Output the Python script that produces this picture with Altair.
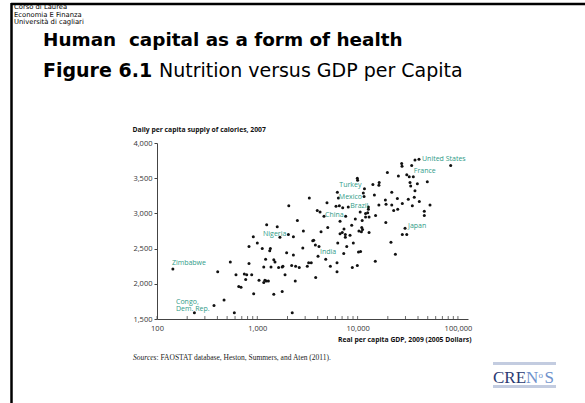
import altair as alt
import pandas as pd

# Countries that carry a name label
countries = ["United States", "France", "Turkey", "Mexico", "Brazil", "China",
             "Japan", "Nigeria", "India", "Zimbabwe", "Congo,\nDem. Rep."]
country_gdp = [40900, 30900, 11700, 11600, 8070, 7600, 29700, 2040, 4030, 144, 370]
country_kcal = [3770, 3550, 3350, 3240, 3090, 2960, 2790, 2700, 2390, 2210, 1690]

# Remaining countries (real GDP per capita, daily kcal per capita)
other_gdp = [
    37300, 84700, 27500, 27700, 34600, 19800, 25500, 32700, 35900, 9930,
    10000, 14200, 16400, 16300, 33300, 33800, 39400, 49500, 11400, 21900,
    37300, 6280, 3300, 14700, 6430, 24900, 18900, 32000, 36700, 41200,
    4950, 6090, 6570, 7100, 12800, 12800, 16300, 19200, 21900, 27900,
    35100, 52700, 2060, 3960, 4220, 4620, 10600, 12000, 12600, 12000,
    15100, 25100, 22900, 46200, 46200, 2510, 6680, 9480, 11100, 19100,
    5040, 8730, 11000, 11200, 7310, 2880, 4320, 6680, 7540, 7540,
    8400, 10300, 13000, 27900, 30900, 2290, 236, 466, 403, 538,
    590, 613, 653, 688, 742, 784, 766, 826, 826, 879,
    912, 920, 1000, 1040, 1120, 1160, 1190, 1160, 1230, 1210,
    1290, 1240, 1330, 1350, 1370, 1460, 1460, 1500, 1580, 1630,
    1680, 1770, 1800, 1770, 1890, 1960, 2200, 2230, 2290, 2390,
    2410, 2620, 2840, 3150, 3250, 3450, 3570, 3650, 3820, 3790,
    4120, 4810, 5350, 6230, 6230, 6340, 7030, 7270, 7790, 9060,
    21500, 10200, 10700, 23800, 15000, 8850, 9930, 10900, 13000,
]
other_kcal = [
    3760, 3680, 3710, 3670, 3680, 3580, 3530, 3520, 3520, 3500,
    3470, 3410, 3440, 3400, 3440, 3390, 3420, 3450, 3290, 3300,
    3320, 3300, 3220, 3260, 3220, 3210, 3190, 3200, 3230, 3170,
    3150, 3100, 3110, 3080, 3090, 3060, 3120, 3130, 3120, 3140,
    3110, 3120, 3110, 3040, 3020, 2960, 3020, 3000, 3010, 2950,
    2970, 3060, 3040, 3030, 2970, 2900, 2890, 2920, 2900, 2870,
    2800, 2830, 2800, 2770, 2780, 2750, 2740, 2710, 2700, 2660,
    2690, 2750, 2730, 2700, 2700, 2670, 1590, 1770, 2170, 2310,
    1590, 2130, 1960, 1950, 2140, 2130, 2060, 2290, 2530, 2130,
    2670, 1860, 2580, 2050, 2500, 2240, 2050, 2020, 2040, 2350,
    2040, 2840, 2470, 2500, 2240, 1850, 2340, 2310, 2810, 2230,
    2660, 2240, 2250, 1890, 2130, 2440, 2260, 1590, 2410, 2040,
    2250, 2230, 2510, 2250, 2300, 2300, 2610, 2620, 2090, 2550,
    2530, 2350, 2250, 2300, 2170, 2580, 2730, 2430, 2530, 2580,
    2590, 2450, 2460, 2420, 2320, 2230, 2260, 2740, 2950,
]

x_ticks = [100, 1000, 10000, 100000]
x_minor = [m * d for d in (100, 1000, 10000) for m in range(2, 10)] + x_ticks
y_ticks = [1500, 2000, 2500, 3000, 3500, 4000]
tick_base, tick_top = 1500, 1542

labelled = pd.DataFrame({"country": countries, "gdp": country_gdp, "kcal": country_kcal})
points = pd.concat([
    labelled[["gdp", "kcal"]],
    pd.DataFrame({"gdp": other_gdp, "kcal": other_kcal}),
], ignore_index=True)

W, H = 311, 176
TEAL = "#2f9b88"
AXIS_FONT = "Open Sans"

x_scale = alt.Scale(type="log", domain=[100, 126000], nice=False)
y_scale = alt.Scale(domain=[1500, 4000], nice=False, zero=False)

x_axis = alt.Axis(
    values=x_ticks, format=",.0f", ticks=False, labelFlush=False, labelOverlap=False,
    labelFont=AXIS_FONT, labelFontSize=7.5, labelColor="#333333", labelPadding=5,
    domainColor="#444444", grid=False,
    title="Real per capita GDP, 2009 (2005 Dollars)",
    titleFont=AXIS_FONT, titleFontSize=6.8, titleFontWeight="bold", titleColor="#111111",
    titleAlign="right", titleBaseline="middle", titleX=314, titleY=20)
y_axis = alt.Axis(
    values=y_ticks, format=",.0f", tickSize=3, tickColor="#444444", labelOverlap=False,
    labelFont=AXIS_FONT, labelFontSize=7.5, labelColor="#333333", labelPadding=2,
    domainColor="#444444", grid=False,
    title="Daily per capita supply of calories, 2007",
    titleFont=AXIS_FONT, titleFontSize=6.8, titleFontWeight="bold", titleColor="#111111",
    titleAngle=0, titleAlign="left", titleBaseline="alphabetic", titleX=-25, titleY=-12)

X = alt.X("gdp:Q", scale=x_scale, axis=x_axis)
Y = alt.Y("kcal:Q", scale=y_scale, axis=y_axis)

dots = alt.Chart(points).mark_circle(size=9, color="#111111", opacity=1).encode(x=X, y=Y)

# Inward-pointing log ticks along the x axis
tick_df = pd.DataFrame({"gdp": x_minor, "kcal": tick_base, "kcal2": tick_top})
minor_ticks = alt.Chart(tick_df).mark_rule(color="#444444", strokeWidth=0.8).encode(
    x=X, y=Y, y2="kcal2:Q")

# Label placement: (align, dx, dy)
placement = {
    "United States": ("left", 3, 0),
    "France": ("left", 7, -4),
    "Turkey": ("right", -3, -4),
    "Mexico": ("right", -2, 0),
    "Brazil": ("left", 2, -1),
    "China": ("right", -2, -1),
    "Japan": ("left", 3, -2),
    "Nigeria": ("right", -2, -1),
    "India": ("left", 2, -4),
    "Zimbabwe": ("left", -1, -6),
    "Congo,\nDem. Rep.": ("left", -38, -4),
}
label_layers = []
for name, (align, dx, dy) in placement.items():
    label_layers.append(
        alt.Chart(labelled).transform_filter(alt.datum.country == name)
        .mark_text(align=align, baseline="middle", dx=dx, dy=dy, font=AXIS_FONT,
                   fontSize=7, color=TEAL, lineBreak="\n", lineHeight=7.7)
        .encode(x=X, y=Y, text="country:N")
    )

one = alt.Data(values=[{}])


def note(text, x, y, size, font="DejaVu Sans", weight="normal", style="normal",
         color="#000000", align="left"):
    return alt.Chart(one).mark_text(
        text=text, align=align, baseline="alphabetic", font=font, fontSize=size,
        fontWeight=weight, fontStyle=style, color=color,
    ).encode(x=alt.value(x), y=alt.value(y))


def box(x1, x2, y1, y2, color):
    return alt.Chart(one).mark_rect(color=color).encode(
        x=alt.value(x1), x2=alt.value(x2), y=alt.value(y1), y2=alt.value(y2))


def line(x1, x2, y1, y2, width):
    return alt.Chart(one).mark_rule(color="#000000", strokeWidth=width).encode(
        x=alt.value(x1), x2=alt.value(x2), y=alt.value(y1), y2=alt.value(y2))


NAVY, SKY = "#2b3a72", "#6f92cc"
slide = [
    line(-146, 428, -139, -139, 2.5),
    line(-145.5, -145.5, -140, 260, 2.5),
    note("Corso di Laurea", -143, -133.8, 6.8),
    note("Economia E Finanza", -143, -126.4, 6.8),
    note("Università di cagliari", -143, -119, 6.8),
    note("Human\u00a0 capital as a form of health", -114, -97, 18.4, weight="bold"),
    note("Figure 6.1", -114, -65.7, 19, weight="bold"),
    note("Nutrition versus GDP per Capita", 2, -65.7, 19),
    note("Sources", -24, 216.5, 7.5, font="Liberation Serif", style="italic", color="#222222"),
    note(": FAOSTAT database, Heston, Summers, and Aten (2011).", -0.5, 216.5, 7.5,
         font="Liberation Serif", color="#222222"),
    box(336, 399, 219, 222, "#c3cce0"),
    box(336, 399, 242, 245, "#c3cce0"),
    note("CRE", 336, 240, 17, font="Liberation Serif", color=NAVY),
    note("N", 369, 240, 17, font="Liberation Serif", color=SKY),
    note("o", 381.5, 234.5, 9, font="Liberation Serif", color=SKY),
    note("S", 387.5, 240, 17, font="Liberation Serif", color=SKY),
]

chart = alt.layer(dots, minor_ticks, *label_layers, *slide).properties(
    width=W, height=H,
    padding={"left": 157, "top": 143, "right": 117, "bottom": 84},
    autosize=alt.AutoSizeParams(type="none"),
    background="white",
).configure_view(stroke=None)

chart.save("out.html", embed_options={"renderer": "svg", "actions": False})
